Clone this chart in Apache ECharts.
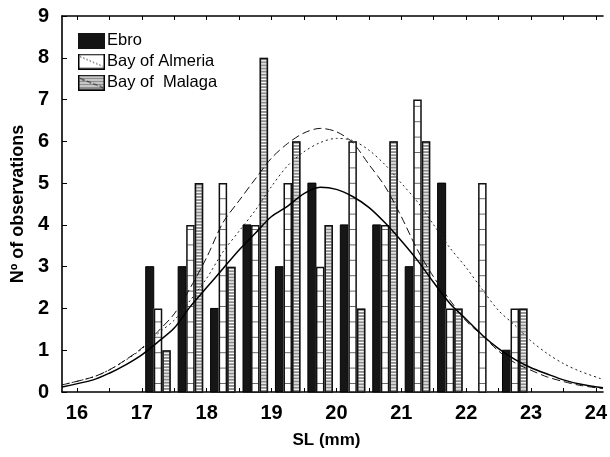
<!DOCTYPE html>
<html><head><meta charset="utf-8">
<script src="https://cdn.jsdelivr.net/npm/echarts@6/dist/echarts.min.js"></script>
<style>html,body{margin:0;padding:0;background:#fff}#c{width:610px;height:457px}</style>
</head><body><div id="c"></div>
<script>
// ---- data ----
const binCenters = [17.25,17.75,18.25,18.75,19.25,19.75,20.25,20.75,21.25,21.75,22.25,22.75];
const ebro    = [3,3,2,4,3,5,4,4,3,5,0,1];
const almeria = [2,4,5,4,5,3,6,4,7,2,5,2];
const malaga  = [1,5,3,8,6,4,2,6,6,2,0,2];
const seriesNames = ['Ebro','Bay of Almeria','Bay of  Malaga'];
const xLabelTicks = [16,17,18,19,20,21,22,23,24];
const xMinorTicks = [16,16.5,17,17.5,18,18.5,19,19.5,20,20.5,21,21.5,22,22.5,23,23.5,24];
const yTicks = [0,1,2,3,4,5,6,7,8,9];
// fitted curves: [SL, count]
const ebroCurve = [[15.77,0.12],[16.25,0.29],[16.5,0.45],[16.75,0.65],[17.0,0.89],[17.25,1.2],[17.5,1.53],[17.75,2.05],[18.0,2.5],[18.25,2.95],[18.5,3.4],[18.75,3.8],[19.0,4.2],[19.25,4.45],[19.5,4.75],[19.75,4.9],[20.0,4.85],[20.25,4.68],[20.5,4.42],[20.75,4.05],[21.0,3.62],[21.25,3.15],[21.5,2.62],[21.75,2.12],[22.0,1.74],[22.25,1.36],[22.5,1.04],[22.75,0.78],[23.0,0.58],[23.25,0.43],[23.5,0.29],[23.75,0.19],[24.11,0.1]];
const almeriaCurve = [[15.77,0.17],[16.25,0.36],[16.5,0.53],[16.75,0.76],[17.0,1.03],[17.25,1.4],[17.5,1.72],[17.75,2.2],[18.0,2.72],[18.25,3.35],[18.5,3.85],[18.75,4.35],[19.0,4.92],[19.25,5.42],[19.5,5.75],[19.75,5.97],[20.0,6.07],[20.25,6.02],[20.5,5.79],[20.75,5.44],[21.0,5.0],[21.25,4.55],[21.5,4.0],[21.75,3.45],[22.0,2.98],[22.25,2.45],[22.5,1.95],[22.75,1.6],[23.0,1.22],[23.25,0.92],[23.5,0.68],[23.75,0.5],[24.11,0.3]];
const malagaCurve = [[15.77,0.17],[16.25,0.36],[16.5,0.53],[16.75,0.77],[17.0,1.05],[17.25,1.45],[17.5,1.87],[17.75,2.5],[18.0,3.22],[18.25,4.05],[18.5,4.58],[18.75,5.1],[19.0,5.6],[19.25,5.95],[19.5,6.2],[19.75,6.31],[20.0,6.23],[20.25,5.97],[20.5,5.45],[20.75,4.92],[21.0,4.2],[21.25,3.4],[21.5,2.75],[21.75,2.2],[22.0,1.7],[22.25,1.35],[22.5,0.98],[22.75,0.7],[23.0,0.52],[23.25,0.36],[23.5,0.25],[23.75,0.16],[24.11,0.08]];

const FONT = '"Liberation Sans", Arial, Helvetica, sans-serif';
const FONT_N = '"Liberation Sans Narrow", "Liberation Sans", Arial, sans-serif';

// ---- legend icons ----
function icon(kind){
  const c = document.createElement('canvas'); c.width = 27; c.height = 16;
  const g = c.getContext('2d');
  if (kind === 0){ g.fillStyle = '#141414'; g.fillRect(0,0,27,16); }
  else if (kind === 1){
    g.fillStyle = '#fff'; g.fillRect(0,0,27,16);
    g.strokeStyle = '#000'; g.lineWidth = 1.5; g.strokeRect(0.75,0.75,25.5,14.5);
    g.setLineDash([1.5,2]); g.lineWidth = 1; g.strokeStyle = '#333';
    g.beginPath(); g.moveTo(2,3); g.lineTo(25,13); g.stroke();
  } else {
    g.fillStyle = '#8e8e8e'; g.fillRect(0,0,27,16);
    g.strokeStyle = '#fff'; g.lineWidth = 1;
    for (let y = 2.5; y < 15; y += 3){ g.beginPath(); g.moveTo(1,y); g.lineTo(26,y); g.stroke(); }
    g.strokeStyle = '#000'; g.lineWidth = 1.5; g.strokeRect(0.75,0.75,25.5,14.5);
    g.setLineDash([5,2]); g.lineWidth = 1; g.strokeStyle = '#111';
    g.beginPath(); g.moveTo(2,4); g.lineTo(25,13); g.stroke();
  }
  return 'image://' + c.toDataURL();
}

// ---- bar renderer ----
function makeRender(slot){
  return function(params, api){
    const c = api.value(0), v = api.value(1);
    if (!v) return { type: 'group', children: [] };
    const band = api.size([0.5, 0])[0];
    const barW = band * 0.263;
    const cx = api.coord([c, 0])[0];
    const x0 = cx - 1.5 * barW + slot * barW;
    const yTop = api.coord([c, v])[1];
    const yBot = api.coord([c, 0])[1];
    const h = yBot - yTop;
    const ch = [];
    if (slot === 0){
      ch.push({type:'rect', shape:{x:x0+0.5, y:yTop, width:barW-0.5, height:h}, style:{fill:'#161616', stroke:'#000', lineWidth:1}});
    } else if (slot === 1){
      ch.push({type:'rect', shape:{x:x0, y:yTop, width:barW, height:h}, style:{fill:'#fff'}});
      for (let y = yBot - 8.5; y > yTop + 3; y -= 15.4){
        ch.push({type:'line', shape:{x1:x0+1, y1:y, x2:x0+barW-1, y2:y}, style:{stroke:'#6a6a6a', lineWidth:1}});
      }
      ch.push({type:'rect', shape:{x:x0+0.75, y:yTop+0.75, width:barW-1.5, height:h-0.75}, style:{fill:null, stroke:'#111', lineWidth:1.5}});
    } else {
      ch.push({type:'rect', shape:{x:x0, y:yTop, width:barW, height:h}, style:{fill:'#8e8e8e'}});
      for (let y = yTop + 3; y < yBot - 1; y += 3.1){
        ch.push({type:'line', shape:{x1:x0+1.5, y1:y, x2:x0+barW-1.5, y2:y}, style:{stroke:'#fff', lineWidth:1.2}});
      }
      ch.push({type:'rect', shape:{x:x0+0.75, y:yTop+0.75, width:barW-1.5, height:h-0.75}, style:{fill:null, stroke:'#111', lineWidth:1.5}});
    }
    return {type:'group', children: ch};
  };
}

const pair = (arr) => binCenters.map((c, i) => [c, arr[i]]);

const chart = echarts.init(document.getElementById('c'), null, {renderer: 'canvas'});
const xCommon = {
  type: 'value', min: 15.77, max: 24.11,
  splitLine: {show: false},
  axisLine: {show: true, onZero: false, lineStyle: {color: '#000', width: 1.6}},
  axisTick: {show: true, inside: true, length: 4, customValues: xMinorTicks, lineStyle: {color: '#000', width: 1}}
};
chart.setOption({
  backgroundColor: '#fff',
  animation: false,
  grid: {left: 62, right: 0, top: 16, bottom: 65},
  legend: {
    orient: 'vertical', left: 78, top: 32, padding: 0, itemGap: 4,
    itemWidth: 27, itemHeight: 16,
    textStyle: {fontFamily: FONT, fontSize: 16.5, color: '#000', padding: [0,0,0,-3]},
    data: seriesNames.map((n, i) => ({name: n, icon: icon(i)}))
  },
  xAxis: [
    Object.assign({}, xCommon, {
      position: 'bottom',
      name: 'SL (mm)', nameLocation: 'middle', nameGap: 40,
      nameTextStyle: {fontFamily: FONT, fontSize: 17, fontWeight: 'bold', color: '#000', padding: [0, 12, 0, 0]},
      axisLabel: {show: true, customValues: xLabelTicks, margin: 11, fontFamily: FONT_N, fontSize: 20, fontWeight: 'bold', color: '#000'}
    }),
    Object.assign({}, xCommon, {position: 'top', axisLabel: {show: false}})
  ],
  yAxis: {
    type: 'value', min: 0, max: 9, interval: 1,
    splitLine: {show: false},
    axisLine: {show: true, lineStyle: {color: '#000', width: 1.6}},
    axisTick: {show: true, inside: true, length: 5, lineStyle: {color: '#000', width: 1}},
    axisLabel: {margin: 13, fontFamily: FONT_N, fontSize: 20, fontWeight: 'bold', color: '#000',
      customValues: yTicks},
    name: 'Nº of observations', nameLocation: 'middle', nameGap: 35, nameRotate: 90,
    nameTextStyle: {fontFamily: FONT, fontSize: 18, fontWeight: 'bold', color: '#000'}
  },
  series: [
    {name: seriesNames[0], type: 'custom', renderItem: makeRender(0), data: pair(ebro), itemStyle: {color: '#161616'}, encode: {x: 0, y: 1}, z: 2},
    {name: seriesNames[1], type: 'custom', renderItem: makeRender(1), data: pair(almeria), itemStyle: {color: '#fff'}, encode: {x: 0, y: 1}, z: 2},
    {name: seriesNames[2], type: 'custom', renderItem: makeRender(2), data: pair(malaga), itemStyle: {color: '#8e8e8e'}, encode: {x: 0, y: 1}, z: 2},
    {type: 'line', data: ebroCurve, showSymbol: false, symbol: 'none', smooth: 0.3, z: 5, lineStyle: {color: '#000', width: 1.5, type: 'solid'}},
    {type: 'line', data: almeriaCurve, showSymbol: false, symbol: 'none', smooth: 0.3, z: 5, lineStyle: {color: '#222', width: 1, type: [2, 3]}},
    {type: 'line', data: malagaCurve, showSymbol: false, symbol: 'none', smooth: 0.3, z: 5, lineStyle: {color: '#111', width: 1, type: [8, 4]}}
  ]
});
</script></body></html>
